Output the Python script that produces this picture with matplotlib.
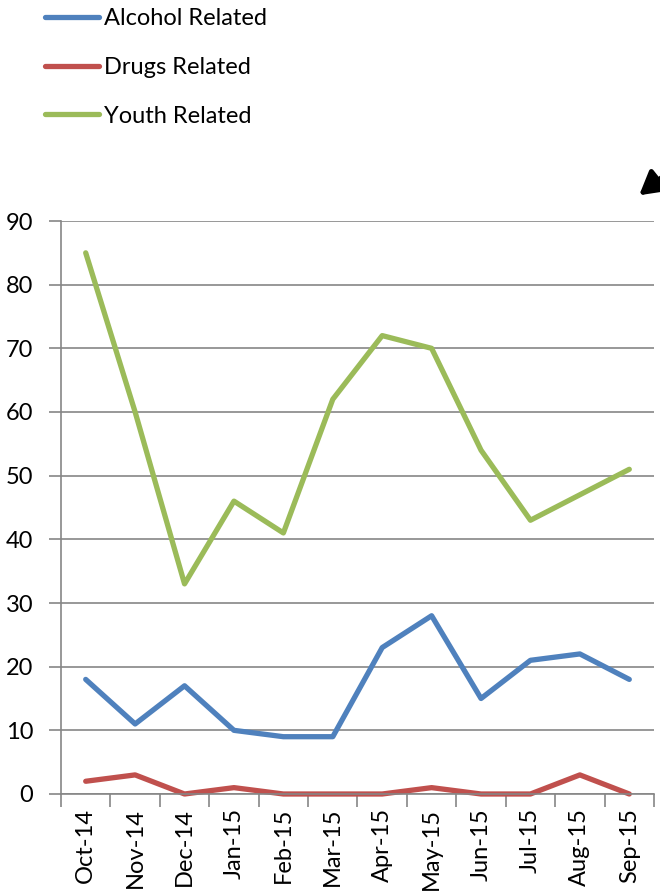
import matplotlib
matplotlib.use("Agg")
import matplotlib.pyplot as plt
import numpy as np

months = ["Oct-14", "Nov-14", "Dec-14", "Jan-15", "Feb-15", "Mar-15",
          "Apr-15", "May-15", "Jun-15", "Jul-15", "Aug-15", "Sep-15"]
alcohol = [18, 11, 17, 10, 9, 9, 23, 28, 15, 21, 22, 18]
drugs = [2, 3, 0, 1, 0, 0, 0, 1, 0, 0, 3, 0]
youth = [85, 60, 33, 46, 41, 62, 72, 70, 54, 43, 47, 51]

plt.rcParams["font.family"] = ["Lato", "DejaVu Sans"]

fig = plt.figure(figsize=(6.6, 8.93), dpi=100)
ax = fig.add_axes([61 / 660, 1 - 794 / 893, 593 / 660, 573 / 893])

x = np.arange(len(months))
l1, = ax.plot(x, alcohol, color="#4F81BD", lw=3.8, solid_capstyle="round", label="Alcohol Related")
l2, = ax.plot(x, drugs, color="#C0504D", lw=3.8, solid_capstyle="round", label="Drugs Related")
l3, = ax.plot(x, youth, color="#9BBB59", lw=3.8, solid_capstyle="round", label="Youth Related")
for l in (l1, l2, l3):
    l.set_clip_on(False)

ax.set_xlim(-0.5, len(months) - 0.5)
ax.set_ylim(0, 90)
ax.set_yticks(range(0, 91, 10))
ax.yaxis.grid(True, color="#868686", lw=1.2)
ax.set_axisbelow(True)
for s in ("top", "right"):
    ax.spines[s].set_visible(False)
for s in ("left", "bottom"):
    ax.spines[s].set_color("#868686")
    ax.spines[s].set_linewidth(1.2)

ax.set_xticks(x)
ax.set_xticklabels(months, rotation=90, fontsize=17)
ax.set_xticks(np.arange(-0.5, len(months)), minor=True)
ax.tick_params(axis="x", which="major", length=0, pad=10)
ax.tick_params(axis="x", which="minor", length=9, width=1.2, color="#868686")
ax.tick_params(axis="y", length=9, width=1.2, color="#868686", labelsize=17, pad=11)

fig.legend(handles=[l1, l2, l3], loc="upper left", bbox_to_anchor=(45 / 660, 1 - 8 / 893),
           frameon=False, fontsize=17, handlelength=2.3, handletextpad=0.2,
           labelspacing=1.18, borderpad=0, borderaxespad=0)

fig.add_artist(matplotlib.patches.FancyArrowPatch(
    (690, 893 - 155), (637, 893 - 197), transform=None,
    arrowstyle="-|>,head_length=14,head_width=8", color="black", lw=3.5))

fig.savefig("out.png", dpi=100)
